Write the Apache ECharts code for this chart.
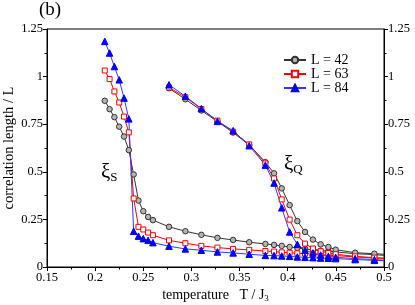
<!DOCTYPE html>
<html>
<head>
<meta charset="utf-8">
<script src="https://cdn.jsdelivr.net/npm/echarts@6/dist/echarts.min.js"></script>
<style>html,body{margin:0;padding:0;background:#fff}#c{width:415px;height:305px}</style>
</head>
<body>
<div id="c"></div>
<script>
// temperatures (S branch) and (Q branch)
const tS = [0.21,0.215,0.22,0.225,0.23,0.235,0.24,0.245,0.25,0.255,0.26,0.2767,0.2937,0.3103,0.327,0.3433,0.36,0.3768,0.3858,0.3938,0.402,0.41,0.418,0.4262,0.4342,0.4422,0.4498,0.47,0.49,0.5];
const tQ = [0.2767,0.2937,0.3103,0.327,0.3433,0.36,0.3768,0.3858,0.3938,0.402,0.41,0.418,0.4262,0.4342,0.4422,0.4498,0.47,0.49,0.5];

const s42 = [0.873,0.829,0.787,0.737,0.685,0.614,0.486,0.349,0.293,0.263,0.246,0.211,0.188,0.169,0.153,0.142,0.130,0.121,0.116,0.111,0.105,0.100,0.095,0.090,0.086,0.084,0.079,0.070,0.065,0.061];
const s63 = [1.032,0.987,0.922,0.864,0.790,0.707,0.360,0.211,0.197,0.181,0.167,0.140,0.125,0.111,0.102,0.095,0.090,0.084,0.081,0.077,0.075,0.072,0.070,0.067,0.065,0.061,0.060,0.053,0.047,0.046];
const s84 = [1.185,1.124,1.053,0.983,0.887,0.778,0.188,0.162,0.149,0.140,0.128,0.109,0.095,0.088,0.079,0.074,0.067,0.061,0.060,0.058,0.056,0.053,0.051,0.049,0.047,0.046,0.044,0.039,0.035,0.033];

const q42 = [0.939,0.881,0.822,0.764,0.706,0.641,0.551,0.492,0.413,0.325,0.241,0.184,0.144,0.119,0.105,0.091,0.075,0.070,0.067];
const q63 = [0.943,0.892,0.830,0.769,0.711,0.644,0.544,0.465,0.355,0.249,0.167,0.123,0.097,0.083,0.074,0.067,0.056,0.049,0.046];
const q84 = [0.957,0.897,0.832,0.765,0.716,0.637,0.535,0.441,0.311,0.184,0.119,0.088,0.074,0.063,0.056,0.051,0.044,0.039,0.036];

const xTicks = [0.15,0.2,0.25,0.3,0.35,0.4,0.45,0.5];
const yTicks = [0,0.25,0.5,0.75,1,1.25];

const FONT = 'Liberation Serif';

function pts(t, v) {
  return t.map((x, i) => {
    const d = {value: [x, v[i]]};
    if (i === t.length - 1 && x >= 0.5) d.symbol = 'none';
    return d;
  });
}

const styles = {
  'L = 42': {line: '#333333', sym: 'circle', size: 5.5, fill: '#b4b4b4', border: '#333333'},
  'L = 63': {line: '#ff0000', sym: 'rect', size: 5, fill: '#ffffff', border: '#ff0000'},
  'L = 84': {line: '#3535ff', sym: 'triangle', size: 6.5, fill: '#0000ff', border: '#0000ff'}
};

function mk(name, t, v) {
  const s = styles[name];
  return {
    name: name, type: 'line', data: pts(t, v),
    symbol: s.sym, symbolSize: s.size, showAllSymbol: true,
    lineStyle: {color: s.line, width: 1},
    itemStyle: {color: s.fill, borderColor: s.border, borderWidth: 1},
    color: s.line,
    animation: false, z: 3
  };
}

const chart = echarts.init(document.getElementById('c'), null, {renderer: 'canvas'});

const axisCommon = {
  axisLine: {lineStyle: {color: '#000', width: 1}},
  axisTick: {inside: false, length: 4, lineStyle: {color: '#000'}},
  minorTick: {show: true, splitNumber: 2, length: 2.5, lineStyle: {color: '#000'}},
  splitLine: {show: false},
  axisLabel: {color: '#000', fontFamily: FONT, fontSize: 12.5, margin: 4}
};

chart.setOption({
  animation: false,
  backgroundColor: '#fff',
  grid: {left: 47, right: 31, top: 29, bottom: 38, show: true, borderColor: '#000', borderWidth: 1,
         containLabel: false, outerBoundsMode: 'none'},
  legend: {
    left: 278, top: 48, orient: 'vertical', itemGap: 0, itemWidth: 22, itemHeight: 8,
    textStyle: {fontFamily: FONT, fontSize: 14, lineHeight: 12, color: '#000', padding: [0,0,0,0]},
    data: ['L = 42', 'L = 63', 'L = 84']
  },
  xAxis: Object.assign({}, axisCommon, {
    type: 'value', min: xTicks[0], max: xTicks[xTicks.length - 1], interval: 0.05,
    axisLabel: Object.assign({}, axisCommon.axisLabel, {formatter: v => String(+v.toFixed(2))}),
    name: '{a|temperature   T / J}{s|3}', nameLocation: 'middle', nameGap: 20, nameMoveOverlap: false,
    nameTextStyle: {rich: {
      a: {fontFamily: FONT, fontSize: 14, color: '#000'},
      s: {fontFamily: FONT, fontSize: 9, color: '#000', verticalAlign: 'bottom', padding: [7,0,0,0]}
    }}
  }),
  yAxis: [
    Object.assign({}, axisCommon, {
      type: 'value', min: yTicks[0], max: yTicks[yTicks.length - 1], interval: 0.25,
      name: 'correlation length / L', nameLocation: 'middle', nameGap: 30, nameMoveOverlap: false,
      nameTextStyle: {fontFamily: FONT, fontSize: 14.5, color: '#000'}
    }),
    Object.assign({}, axisCommon, {
      type: 'value', min: yTicks[0], max: yTicks[yTicks.length - 1], interval: 0.25,
      position: 'right'
    })
  ],
  graphic: [
    {type: 'text', left: 39, top: 1, style: {text: '(b)', fontFamily: FONT, fontSize: 19, fill: '#000'}},
    {type: 'text', left: 101, top: 162, style: {text: '{a|ξ}{s|S}', rich: {
      a: {fontFamily: FONT, fontSize: 21, fill: '#000'},
      s: {fontFamily: FONT, fontSize: 13, fill: '#000', padding: [11,0,0,0]}}}},
    {type: 'text', left: 284, top: 154, style: {text: '{a|ξ}{s|Q}', rich: {
      a: {fontFamily: FONT, fontSize: 21, fill: '#000'},
      s: {fontFamily: FONT, fontSize: 13, fill: '#000', padding: [11,0,0,0]}}}}
  ],
  series: [
    mk('L = 42', tS, s42), mk('L = 63', tS, s63), mk('L = 84', tS, s84),
    mk('L = 42', tQ, q42), mk('L = 63', tQ, q63), mk('L = 84', tQ, q84)
  ]
});
</script>
</body>
</html>
